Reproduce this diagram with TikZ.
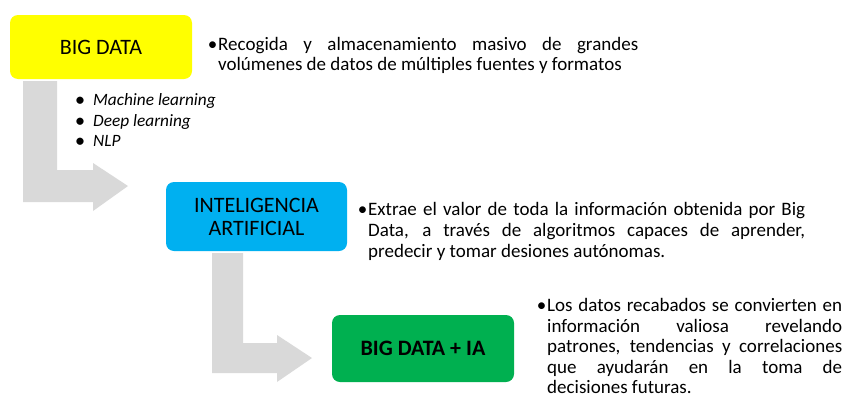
\documentclass[tikz,border=0pt]{standalone}
\usepackage{fontspec}
\setmainfont{Carlito}
\newcommand{\bodyfont}{\fontsize{19}{20.7}\selectfont}
\newcommand{\boxfont}{\fontsize{22}{23}\selectfont}
\begin{document}
\begin{tikzpicture}[x=1pt,y=-1pt,
  stagebox/.style={rounded corners=8pt, minimum width=#1, inner sep=0pt, align=center, font=\boxfont, text=black},
  bentarrow/.style={fill=black!15, draw=none},
  para/.style={anchor=north west, inner sep=0pt, align=justify, font=\bodyfont, text width=#1},
  bul/.style={anchor=base east, inner sep=0pt, font=\bodyfont},
  listitem/.style={anchor=base west, inner sep=0pt, font=\fontsize{17.3}{20}\selectfont\itshape},
  listbul/.style={anchor=base, inner sep=0pt, font=\fontsize{17}{20}\selectfont\bfseries}
]
\useasboundingbox (0,0) rectangle (843,399);

% bent arrows
\fill[bentarrow] (23,81) -- (57,81) -- (57,170) -- (93,170) -- (93,163) -- (128,186) -- (93,211) -- (93,202) -- (23,202) -- cycle;
\fill[bentarrow] (212,253) -- (243,253) -- (243,343) -- (277,343) -- (277,335) -- (312,358) -- (277,382) -- (277,373) -- (212,373) -- cycle;

% boxes
\node[stagebox=182pt, minimum height=64pt, fill={rgb,255:red,255;green,255;blue,0}] (bd) at (101,47) {BIG DATA};
\node[stagebox=181pt, minimum height=69pt, fill={rgb,255:red,0;green,176;blue,240}] (ia) at (256.5,216.5) {INTELIGENCIA\\ARTIFICIAL};
\node[stagebox=182pt, minimum height=67pt, fill={rgb,255:red,0;green,176;blue,80}, font=\boxfont\bfseries] (bdia) at (423,348.5) {BIG DATA + IA};

% list
\node[listbul] (b1) at (80,105) {\textbullet};
\node[listitem] (l1) at (93,105) {Machine learning};
\node[listbul] (b2) at (80,126) {\textbullet};
\node[listitem] (l2) at (93,126) {Deep learning};
\node[listbul] (b3) at (80,146) {\textbullet};
\node[listitem] (l3) at (93,146) {NLP};

% descriptions
\node[bul] (p1b) at (217.5,50) {•};
\node[para=420pt] (p1) at (218,35.5) {\strut Recogida y almacenamiento masivo de grandes\linebreak volúmenes de datos de múltiples fuentes y formatos};

\node[bul] (p2b) at (367.5,215.5) {•};
\node[para=437pt] (p2) at (368,201) {\strut Extrae el valor de toda la información obtenida por Big\linebreak Data, a través de algoritmos capaces de aprender,\linebreak predecir y tomar desiones autónomas.};

\node[bul] (p3b) at (546.5,311.5) {•};
\node[para=295pt, font=\fontsize{19}{20.5}\selectfont] (p3) at (547,297) {\strut Los datos recabados se convierten en\linebreak información valiosa revelando\linebreak patrones, tendencias y correlaciones\linebreak que ayudarán en la toma de\linebreak decisiones futuras.};
\end{tikzpicture}
\end{document}
